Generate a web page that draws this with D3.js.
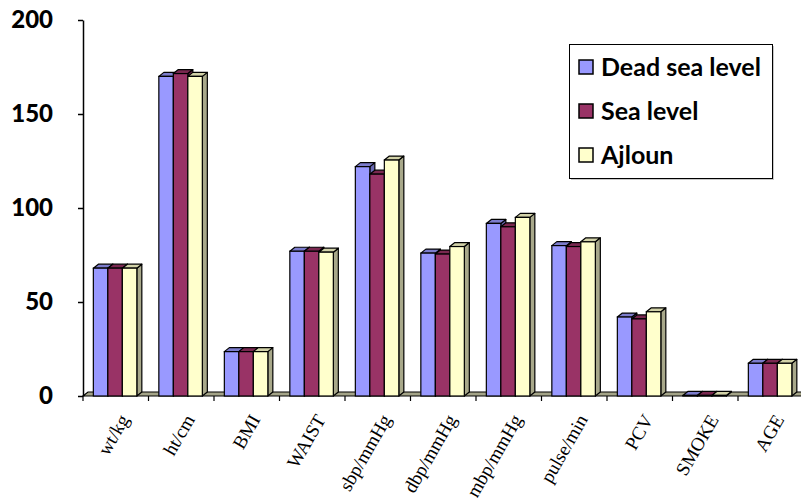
<!DOCTYPE html>
<html>
<head>
<meta charset="utf-8">
<script src="https://cdn.jsdelivr.net/npm/d3@7"></script>
<style>
  html, body { margin: 0; padding: 0; background: #ffffff; }
  svg { display: block; }
</style>
</head>
<body>
<svg id="chart" width="801" height="498"></svg>
<script>
// Measurements per category, three locations
const categories = ["wt/kg", "ht/cm", "BMI", "WAIST", "sbp/mmHg", "dbp/mmHg", "mbp/mmHg", "pulse/min", "PCV", "SMOKE", "AGE"];
const seriesNames = ["Dead sea level", "Sea level", "Ajloun"];
const deadSea = [68, 170, 23.6, 77, 122, 76, 91.8, 80, 42, 0.3, 17.4];
const seaLevel = [68, 171.5, 23.6, 77, 118, 75.5, 90, 79.5, 41, 0.3, 17.4];
const ajloun  = [68, 170, 23.6, 76.5, 125.5, 79.5, 95, 82, 44.8, 0.3, 17.4];
const yTicks = [0, 50, 100, 150, 200];

const values = [deadSea, seaLevel, ajloun];
const faceColors = ["#9999ff", "#993366", "#ffffcc"];
const topColors  = ["#7c7ccc", "#7a2850", "#d2d2a8"];
const sideColors = ["#6a6ab4", "#6a2246", "#a8a88a"];

const svg = d3.select("#chart");
const left = 83, floorY = 396, topY = 20;
const step = 65.5;
const dx = 5, dy = 4; // depth offset of the 3D bars

const x0 = d3.scaleBand()
  .domain(categories)
  .range([left, left + step * categories.length])
  .paddingInner(0.336)
  .paddingOuter(0.168)
  .align(0.47);
const x1 = d3.scaleBand()
  .domain(d3.range(seriesNames.length))
  .range([0, x0.bandwidth()]);
const y = d3.scaleLinear().domain([0, 200]).range([floorY, topY]);

// floor plate
const xEnd = left + step * categories.length;
svg.append("path")
  .attr("d", `M${left},${floorY} L${xEnd},${floorY} L${xEnd + dx},${floorY - dy} L${left + dx},${floorY - dy} Z`)
  .attr("fill", "#a4a488")
  .attr("stroke", "#000")
  .attr("stroke-width", 1.2);

// bars
const groups = svg.append("g").selectAll("g")
  .data(categories)
  .join("g")
  .attr("transform", d => `translate(${x0(d)},0)`);

groups.each(function(cat, ci) {
  const g = d3.select(this);
  seriesNames.forEach((s, si) => {
    const v = values[si][ci];
    const bx = x1(si), bw = x1.bandwidth(), ty = y(v);
    // side face
    g.append("path")
      .attr("d", `M${bx + bw},${ty} L${bx + bw + dx},${ty - dy} L${bx + bw + dx},${floorY - dy} L${bx + bw},${floorY} Z`)
      .attr("fill", sideColors[si]).attr("stroke", "#000").attr("stroke-width", 1.2).attr("stroke-linejoin", "round");
    // top face
    g.append("path")
      .attr("d", `M${bx},${ty} L${bx + dx},${ty - dy} L${bx + bw + dx},${ty - dy} L${bx + bw},${ty} Z`)
      .attr("fill", topColors[si]).attr("stroke", "#000").attr("stroke-width", 1.2).attr("stroke-linejoin", "round");
    // front face
    g.append("rect")
      .attr("x", bx).attr("y", ty)
      .attr("width", bw).attr("height", floorY - ty)
      .attr("fill", faceColors[si]).attr("stroke", "#000").attr("stroke-width", 1.2);
  });
});

// y axis
const yAxis = svg.append("g")
  .attr("transform", `translate(${left},0)`)
  .call(d3.axisLeft(y).tickValues(yTicks).tickSize(5).tickPadding(25).tickSizeOuter(0));
yAxis.select(".domain").attr("stroke", "#000").attr("stroke-width", 1.5);
yAxis.selectAll(".tick line").attr("stroke", "#000").attr("stroke-width", 1.5);
yAxis.selectAll(".tick text")
  .attr("font-family", "Lato, 'Open Sans', sans-serif")
  .attr("font-weight", 900)
  .attr("font-size", 24)
  .attr("fill", "#000");

// x axis ticks at category boundaries
const bounds = d3.range(categories.length + 1).map(i => left + i * step);
svg.append("g").selectAll("line")
  .data(bounds.filter(b => b < 801))
  .join("line")
  .attr("x1", d => d).attr("x2", d => d)
  .attr("y1", floorY).attr("y2", floorY + 5)
  .attr("stroke", "#000").attr("stroke-width", 1.2);

// x labels, rotated
svg.append("g").selectAll("text")
  .data(categories)
  .join("text")
  .attr("transform", d => `translate(${x0(d) + x0.bandwidth() / 2 + 9},${floorY + 20}) rotate(-60)`)
  .attr("text-anchor", "end")
  .attr("dy", "0.35em")
  .attr("font-family", "'Liberation Serif', 'Times New Roman', serif")
  .attr("font-size", 19)
  .attr("fill", "#000")
  .text(d => d);

// legend
const legend = svg.append("g");
legend.append("rect")
  .attr("x", 571).attr("y", 46).attr("width", 203).attr("height", 134)
  .attr("fill", "#c8c8c8");
legend.append("rect")
  .attr("x", 569.5).attr("y", 44.5).attr("width", 203).attr("height", 134)
  .attr("fill", "#fff").attr("stroke", "#000").attr("stroke-width", 1);
seriesNames.forEach((s, i) => {
  const cy = 67 + i * 44;
  legend.append("rect")
    .attr("x", 579).attr("y", cy - 7).attr("width", 14).attr("height", 14)
    .attr("fill", faceColors[i]).attr("stroke", "#000").attr("stroke-width", 1.5);
  legend.append("text")
    .attr("x", 601).attr("y", cy + 9)
    .attr("font-family", "Lato, 'Open Sans', sans-serif")
    .attr("font-weight", "bold")
    .attr("font-size", 25)
    .attr("fill", "#000")
    .text(s);
});
</script>
</body>
</html>
